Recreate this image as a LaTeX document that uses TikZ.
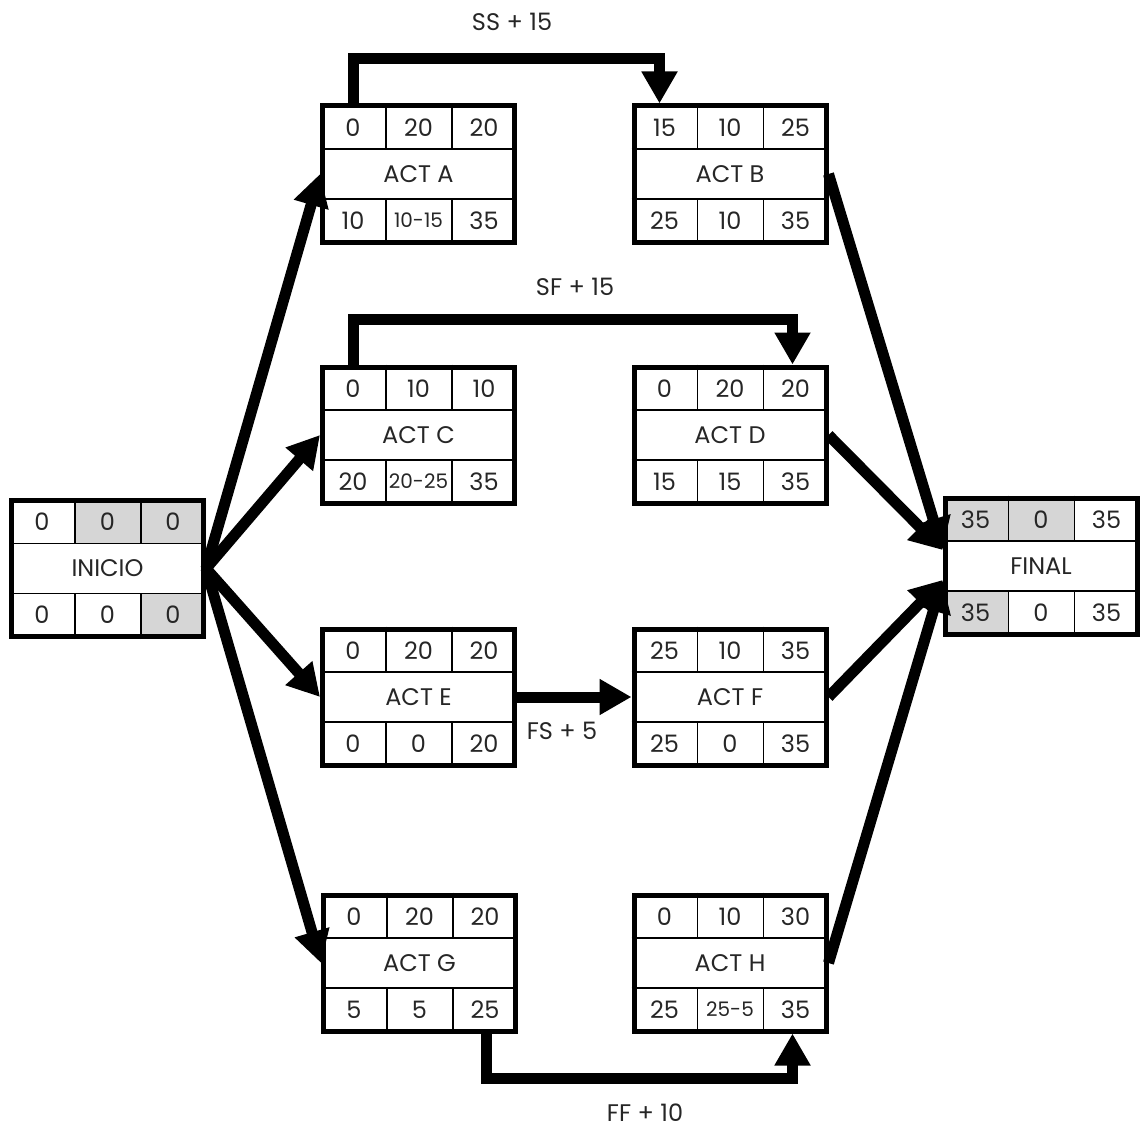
\documentclass[tikz,border=0pt]{standalone}
\usepackage{fontspec}
\setmainfont{Poppins}
\usetikzlibrary{calc}
\usetikzlibrary{arrows.meta}
\usetikzlibrary{backgrounds}
\tikzstyle{actbox}=[draw, line width=2.5pt, minimum width=96pt, minimum height=68pt, inner sep=0pt]
\tikzstyle{cellline}=[line width=0.8pt]
\tikzstyle{cellgray}=[fill=black!16]
\tikzstyle{link}=[line width=5.5pt, -{Triangle[width=17pt,length=16pt]}]
\tikzstyle{val}=[text=black!85, font=\fontsize{12}{14}\selectfont, inner sep=0pt]
\tikzstyle{tag}=[text=black!85, font=\fontsize{12}{14}\selectfont]

% box with three rows: name, position, label, ES, D, EF, LS, H, LF
\newcommand{\actnode}[9]{%
  \node[actbox] (#1) at #2 {};
  \draw[cellline] ([yshift=-22.67pt]#1.north west) -- ([yshift=-22.67pt]#1.north east);
  \draw[cellline] ([yshift=22.67pt]#1.south west) -- ([yshift=22.67pt]#1.south east);
  \draw[cellline] ([xshift=33pt]#1.north west) -- ([xshift=33pt,yshift=-22.67pt]#1.north west);
  \draw[cellline] ([xshift=66pt]#1.north west) -- ([xshift=66pt,yshift=-22.67pt]#1.north west);
  \draw[cellline] ([xshift=33pt]#1.south west) -- ([xshift=33pt,yshift=22.67pt]#1.south west);
  \draw[cellline] ([xshift=66pt]#1.south west) -- ([xshift=66pt,yshift=22.67pt]#1.south west);
  \node[val] (#1-label) at (#1.center) {#3};
  \node[val] (#1-es) at ([xshift=16.5pt,yshift=-12pt]#1.north west) {#4};
  \node[val] (#1-d) at ([yshift=-12pt]#1.north) {#5};
  \node[val] (#1-ef) at ([xshift=-16.5pt,yshift=-12pt]#1.north east) {#6};
  \node[val] (#1-ls) at ([xshift=16.5pt,yshift=12pt]#1.south west) {#7};
  \node[val] (#1-h) at ([yshift=12pt]#1.south) {#8};
  \node[val] (#1-lf) at ([xshift=-16.5pt,yshift=12pt]#1.south east) {#9};
}
% shaded cells: node, column
\newcommand{\graytop}[2]{%
  \begin{scope}[on background layer]
    \begin{scope}
      \clip (#1.north west) rectangle (#1.south east);
      \fill[cellgray] ([xshift={33pt*(#2-1)}]#1.north west)
        rectangle ([xshift={33pt*#2},yshift=-22.67pt]#1.north west);
    \end{scope}
  \end{scope}}
\newcommand{\graybottom}[2]{%
  \begin{scope}[on background layer]
    \begin{scope}
      \clip (#1.north west) rectangle (#1.south east);
      \fill[cellgray] ([xshift={33pt*(#2-1)}]#1.south west)
        rectangle ([xshift={33pt*#2},yshift=22.67pt]#1.south west);
    \end{scope}
  \end{scope}}
\newcommand{\smallval}{\fontsize{10}{12}\selectfont}

\begin{document}
\begin{tikzpicture}[x=0.5pt, y=-0.5pt]
    \useasboundingbox (0,0) rectangle (1140,1129);

    %%%%% nodes
    \actnode{INICIO}{(107.5,568.5)}{INICIO}{0}{0}{0}{0}{0}{0}
    \graytop{INICIO}{2}
    \graytop{INICIO}{3}
    \graybottom{INICIO}{3}
    \actnode{A}{(418.5,174)}{ACT A}{0}{20}{20}{10}{\smallval 10-15}{35}
    \actnode{B}{(730,174)}{ACT B}{15}{10}{25}{25}{10}{35}
    \actnode{C}{(418.5,435)}{ACT C}{0}{10}{10}{20}{\smallval 20-25}{35}
    \actnode{D}{(730,435)}{ACT D}{0}{20}{20}{15}{15}{35}
    \actnode{E}{(418.5,697)}{ACT E}{0}{20}{20}{0}{0}{20}
    \actnode{F}{(730,697)}{ACT F}{25}{10}{35}{25}{0}{35}
    \actnode{G}{(419.5,963)}{ACT G}{0}{20}{20}{5}{5}{25}
    \actnode{H}{(730,963)}{ACT H}{0}{10}{30}{25}{\smallval 25-5}{35}
    \actnode{FINAL}{(1041,566)}{FINAL}{35}{0}{35}{35}{0}{35}
    \graytop{FINAL}{1}
    \graytop{FINAL}{2}
    \graybottom{FINAL}{1}

    %%%%% from INICIO
    \draw[link] (INICIO.east) -- (A.west);
    \draw[link] (INICIO.east) -- (C.west);
    \draw[link] (INICIO.east) -- (E.west);
    \draw[link] (INICIO.east) -- (G.west);

    %%%%% into FINAL
    \coordinate (finup) at ([yshift=8pt]FINAL.west);
    \coordinate (findown) at ([yshift=-7pt]FINAL.west);
    \draw[link] (B.east) -- (finup);
    \draw[link] (D.east) -- (finup);
    \draw[link] (F.east) -- (findown);
    \draw[link] (H.east) -- (findown);

    %%%%% lags
    \draw[link] ([xshift=16.5pt]A.north west) -- ++(0,-45) -| ([xshift=14pt]B.north west);
    \node[tag] (ss) at (512,22) {SS + 15};
    \draw[link] ([xshift=16.5pt]C.north west) -- ++(0,-45) -| ([xshift=-18pt]D.north east);
    \node[tag] (sf) at (575,287) {SF + 15};
    \draw[link] (E.east) -- (F.west);
    \node[tag] (fs) at (562,731) {FS + 5};
    \draw[link] ([xshift=-16pt]G.south east) -- ++(0,45) -| ([xshift=-18pt]H.south east);
    \node[tag] (ff) at (645,1113) {FF + 10};
\end{tikzpicture}
\end{document}
